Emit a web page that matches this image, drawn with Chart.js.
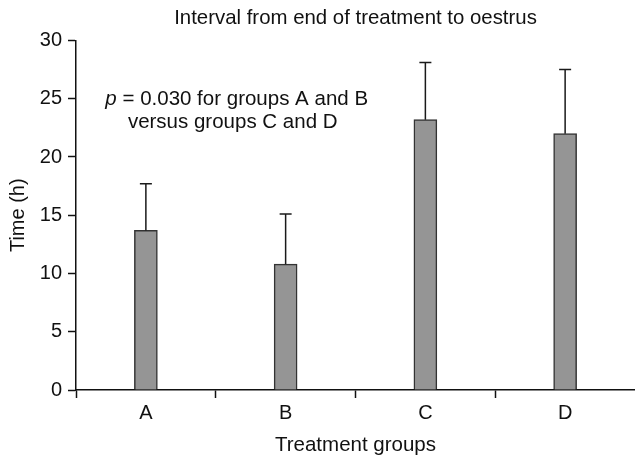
<!DOCTYPE html>
<html>
<head>
<meta charset="utf-8">
<script src="https://cdn.jsdelivr.net/npm/chart.js@4"></script>
<style>
  html, body { margin: 0; padding: 0; background: #fff; }
  #wrap { width: 635px; height: 458px; }
</style>
</head>
<body>
<div id="wrap"><canvas id="oestrusChart"></canvas></div>
<script>
const groups = ['A', 'B', 'C', 'D'];
const groupPos = [0.5, 1.5, 2.5, 3.5];
const meanTime = [13.7, 10.8, 23.2, 22.0];
const errTime = [4.0, 4.3, 4.9, 5.5];
const yTicks = [0, 5, 10, 15, 20, 25, 30];

const font = '"Liberation Sans", Arial, Helvetica, sans-serif';

// upper error bars only, with a small cap
const errorBars = {
    id: 'errorBars',
    afterDatasetsDraw(chart) {
        const ctx = chart.ctx;
        const y = chart.scales.y;
        const meta = chart.getDatasetMeta(0);
        ctx.save();
        ctx.strokeStyle = '#1a1a1a';
        ctx.lineWidth = 1.5;
        meta.data.forEach((bar, i) => {
            const top = y.getPixelForValue(meanTime[i]);
            const end = y.getPixelForValue(meanTime[i] + errTime[i]);
            ctx.beginPath();
            ctx.moveTo(bar.x, top);
            ctx.lineTo(bar.x, end);
            ctx.moveTo(bar.x - 6, end);
            ctx.lineTo(bar.x + 6, end);
            ctx.stroke();
        });
        ctx.restore();
    }
};

// p-value note inside the plot
const pNote = {
    id: 'pNote',
    afterDraw(chart) {
        const ctx = chart.ctx;
        const x = chart.scales.x;
        const y = chart.scales.y;
        const cx = x.getPixelForValue(1.15);
        const f = '20.5px ' + font;
        ctx.save();
        ctx.fillStyle = '#111';
        ctx.textBaseline = 'alphabetic';
        ctx.textAlign = 'left';
        ctx.font = 'italic ' + f;
        const pw = ctx.measureText('p').width;
        ctx.font = f;
        const rest = ' = 0.030 for groups A and B';
        const rw = ctx.measureText(rest).width;
        const x0 = cx - (pw + rw) / 2;
        const y1 = y.getPixelForValue(24.45);
        ctx.font = 'italic ' + f;
        ctx.fillText('p', x0, y1);
        ctx.font = f;
        ctx.fillText(rest, x0 + pw, y1);
        ctx.textAlign = 'center';
        ctx.fillText('versus groups C and D', cx - 4, y.getPixelForValue(22.47));
        ctx.restore();
    }
};

new Chart(document.getElementById('oestrusChart'), {
    type: 'bar',
    data: {
        datasets: [{
            data: groupPos.map((p, i) => ({ x: p, y: meanTime[i] })),
            backgroundColor: '#959595',
            borderColor: '#333',
            borderWidth: 1.5,
            borderSkipped: 'bottom',
            barThickness: 23
        }]
    },
    options: {
        responsive: true,
        maintainAspectRatio: false,
        animation: false,
        layout: { padding: 0 },
        plugins: {
            legend: { display: false },
            tooltip: { enabled: false },
            title: {
                display: true,
                fullSize: false,
                text: 'Interval from end of treatment to oestrus',
                color: '#111',
                font: { family: font, size: 20.4, weight: 'normal', lineHeight: 1.2 },
                padding: { top: 6, bottom: 10 }
            }
        },
        scales: {
            x: {
                type: 'linear',
                offset: false,
                min: 0,
                max: 4,
                afterBuildTicks: (scale) => {
                    scale.ticks = [0, 0.5, 1, 1.5, 2, 2.5, 3, 3.5].map(v => ({ value: v }));
                },
                afterFit: (scale) => { scale.height = 68; },
                grid: {
                    offset: false,
                    drawOnChartArea: false,
                    tickLength: 8,
                    tickWidth: 1.5,
                    tickColor: (c) => (c.tick && c.tick.value % 1 === 0) ? '#111' : 'rgba(0,0,0,0)'
                },
                border: { color: '#111', width: 1.5 },
                ticks: {
                    autoSkip: false,
                    maxRotation: 0,
                    padding: 3,
                    color: '#111',
                    font: { family: font, size: 20 },
                    callback: (v) => {
                        const i = groupPos.indexOf(v);
                        return i >= 0 ? groups[i] : '';
                    }
                },
                title: {
                    display: true,
                    text: 'Treatment groups',
                    color: '#111',
                    font: { family: font, size: 20.5, lineHeight: 1.2 },
                    padding: { top: 0, bottom: 0 }
                }
            },
            y: {
                min: 0,
                max: 30,
                afterBuildTicks: (scale) => {
                    scale.ticks = yTicks.map(v => ({ value: v }));
                },
                afterFit: (scale) => { scale.width = 76; },
                grid: {
                    drawOnChartArea: false,
                    tickLength: 8,
                    tickWidth: 1.5,
                    tickColor: '#111'
                },
                border: { color: '#111', width: 1.5 },
                ticks: {
                    padding: 6,
                    color: '#111',
                    font: { family: font, size: 20 }
                },
                title: {
                    display: true,
                    text: 'Time (h)',
                    color: '#111',
                    font: { family: font, size: 20, lineHeight: 1.2 },
                    padding: { top: 6, bottom: 0 }
                }
            }
        }
    },
    plugins: [errorBars, pNote]
});
</script>
</body>
</html>
